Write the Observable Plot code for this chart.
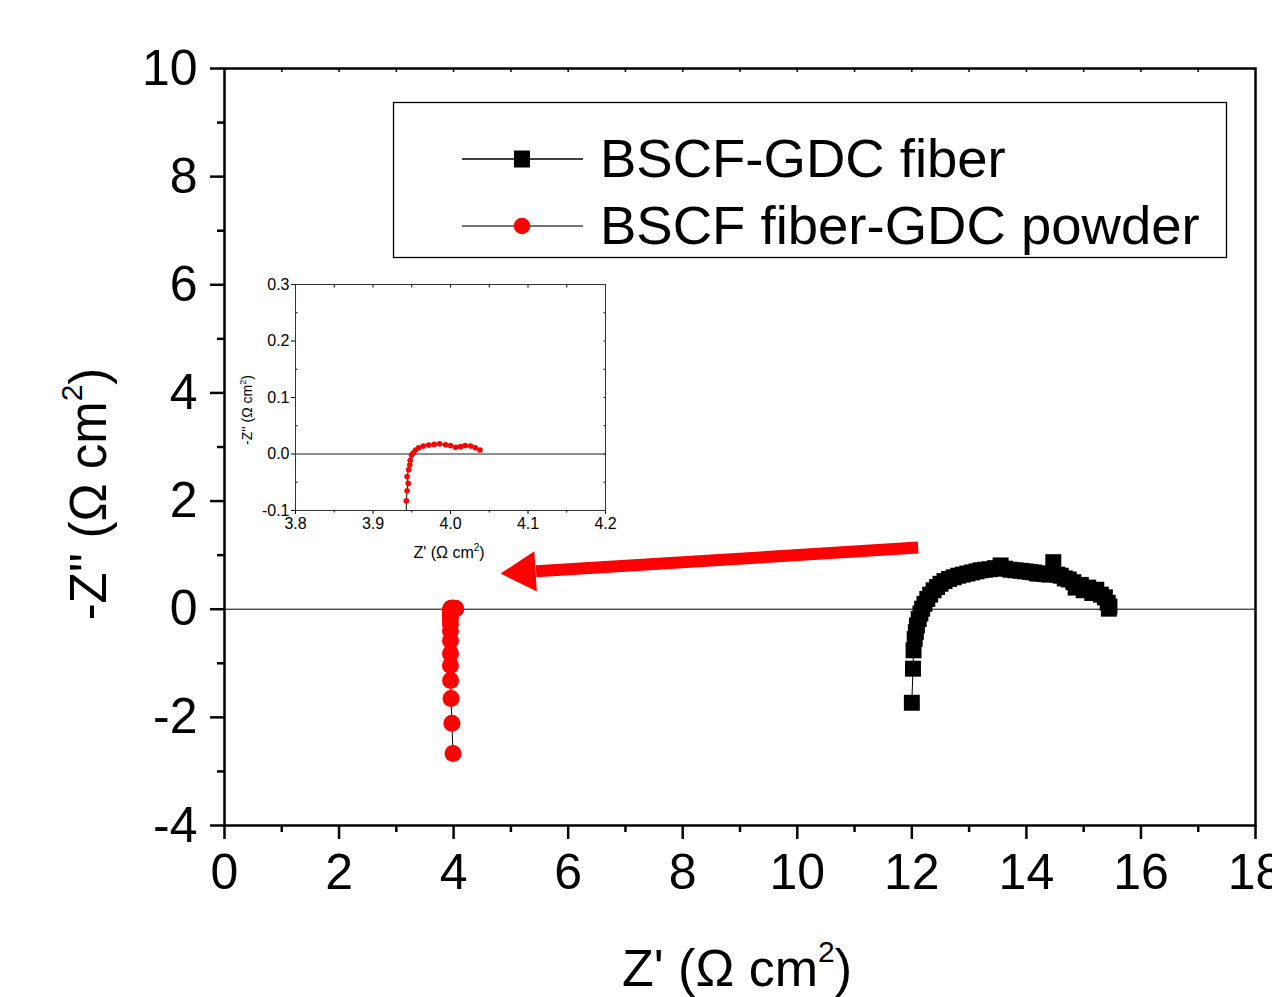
<!DOCTYPE html>
<html><head><meta charset="utf-8">
<script src="https://cdn.jsdelivr.net/npm/d3@7"></script>
<script src="https://cdn.jsdelivr.net/npm/@observablehq/plot@0.6"></script>
<style>
body{margin:0;background:#fff;}
#wrap{position:relative;width:1272px;height:997px;overflow:hidden;background:#fff;}
#main{position:absolute;left:0;top:0;}
#inset{position:absolute;left:220px;top:260px;}
</style></head><body>
<div id="wrap"><div id="main"></div><div id="inset"></div></div>
<script>
// ---- data ----
const seriesNames = ["BSCF-GDC fiber", "BSCF fiber-GDC powder"];
const seriesColors = ["#000000", "#ff0000"];

const fiberZre = [12.00, 12.02, 12.03, 12.05, 12.07, 12.09, 12.12, 12.15, 12.18, 12.22, 12.27, 12.32, 12.38, 12.44, 12.50, 12.57, 12.65, 12.73, 12.81, 12.89, 12.97, 13.05, 13.13, 13.20, 13.28, 13.36, 13.45, 13.55, 13.63, 13.72, 13.81, 13.90, 13.98, 14.06, 14.13, 14.19, 14.26, 14.33, 14.40, 14.47, 14.54, 14.60, 14.67, 14.74, 14.82, 14.86, 14.95, 15.00, 15.08, 15.15, 15.22, 15.30, 15.37, 15.42, 15.45, 15.44];
const fiberZim = [-1.73, -1.10, -0.76, -0.55, -0.42, -0.30, -0.18, -0.08, 0.01, 0.10, 0.19, 0.27, 0.35, 0.41, 0.47, 0.52, 0.56, 0.59, 0.62, 0.64, 0.66, 0.68, 0.70, 0.72, 0.73, 0.74, 0.76, 0.81, 0.75, 0.73, 0.72, 0.71, 0.70, 0.69, 0.68, 0.66, 0.66, 0.65, 0.64, 0.87, 0.64, 0.62, 0.57, 0.55, 0.50, 0.40, 0.45, 0.35, 0.40, 0.30, 0.36, 0.27, 0.22, 0.12, 0.05, 0.01];

const powderZre = [3.99, 3.97, 3.955, 3.947, 3.945, 3.945, 3.945, 3.945, 3.944, 3.944, 3.943, 3.943, 3.944, 3.9454, 3.944, 3.946, 3.9475, 3.948, 3.9497, 3.952, 3.955, 3.959, 3.965, 3.972, 3.979, 3.986, 3.9935, 4.000, 4.0065, 4.013, 4.019, 4.026, 4.032, 4.038];
const powderZim = [-2.67, -2.11, -1.65, -1.32, -1.04, -0.82, -0.58, -0.40, -0.27, -0.18, -0.12, -0.083, -0.065, -0.052, -0.040, -0.028, -0.019, -0.011, -0.002, 0.002, 0.007, 0.011, 0.014, 0.016, 0.017, 0.018, 0.0165, 0.015, 0.012, 0.013, 0.015, 0.014, 0.011, 0.007];

const xMajor = [0, 2, 4, 6, 8, 10, 12, 14, 16, 18];
const xMinor = [1, 3, 5, 7, 9, 11, 13, 15, 17];
const yMajor = [-4, -2, 0, 2, 4, 6, 8, 10];
const yMinor = [-3, -1, 1, 3, 5, 7, 9];
const topTicks = [1, 2, 3, 4, 5, 6, 7, 8, 9, 10, 11, 12, 13, 14, 15, 16, 17];

const insetXMajor = [3.8, 3.9, 4.0, 4.1, 4.2];
const insetXMinor = [3.85, 3.95, 4.05, 4.15];
const insetYMajor = [-0.1, 0.0, 0.1, 0.2, 0.3];
const insetYMinor = [-0.05, 0.05, 0.15, 0.25];

// annotation arrow (data coordinates): tail -> tip
const arrowTail = {x: 12.11, y: 1.14};
const arrowTip = {x: 4.82, y: 0.66};

const fiber = fiberZre.map((x, i) => ({x, y: fiberZim[i]}));
const powder = powderZre.map((x, i) => ({x, y: powderZim[i]}));

const headFrac = 0.085, centFrac = 0.056;
const arrowShaft = [{
  x1: arrowTail.x, y1: arrowTail.y,
  x2: arrowTip.x + (arrowTail.x - arrowTip.x) * headFrac,
  y2: arrowTip.y + (arrowTail.y - arrowTip.y) * headFrac
}];
const arrowHead = [{
  x: arrowTip.x + (arrowTail.x - arrowTip.x) * centFrac,
  y: arrowTip.y + (arrowTail.y - arrowTip.y) * centFrac
}];

const font = "'Liberation Sans', Arial, Helvetica, sans-serif";
const blank = () => "";
const hyph = s => s.replace("\u2212", "-");

const main = Plot.plot({
  width: 1272, height: 997,
  marginLeft: 224, marginRight: 17, marginTop: 68, marginBottom: 172,
  style: {fontFamily: font, background: "transparent", overflow: "visible", color: "#000"},
  x: {domain: [0, 18]},
  y: {domain: [-4, 10]},
  marks: [
    Plot.ruleY([0], {stroke: "#000", strokeWidth: 1}),
    Plot.axisX(xMajor, {anchor: "bottom", tickSize: 14, tickPadding: 14, fontSize: 50, strokeWidth: 2.5, label: null, tickFormat: d => String(d)}),
    Plot.axisX(xMinor, {anchor: "bottom", tickSize: 7, strokeWidth: 2.5, label: null, tickFormat: blank}),
    Plot.axisX(topTicks, {anchor: "top", tickSize: -3, strokeWidth: 1.5, label: null, tickFormat: blank}),
    Plot.axisY(yMajor, {anchor: "left", tickSize: 14, tickPadding: 13, fontSize: 50, strokeWidth: 2.5, label: null, tickFormat: d => String(d)}),
    Plot.axisY(yMinor, {anchor: "left", tickSize: 7, strokeWidth: 2.5, label: null, tickFormat: blank}),
    Plot.frame({stroke: "#000", strokeWidth: 2.5}),
    Plot.line(fiber, {x: "x", y: "y", stroke: seriesColors[0], strokeWidth: 1}),
    Plot.dot(fiber, {x: "x", y: "y", symbol: "square", r: 9, fill: seriesColors[0]}),
    Plot.line(powder, {x: "x", y: "y", stroke: "#000", strokeWidth: 1}),
    Plot.dot(powder, {x: "x", y: "y", symbol: "circle", r: 8.5, fill: seriesColors[1]}),
    Plot.link(arrowShaft, {x1: "x1", y1: "y1", x2: "x2", y2: "y2", stroke: "#ff0000", strokeWidth: 12}),
    Plot.dot(arrowHead, {x: "x", y: "y", symbol: "triangle", r: 15, fill: "#ff0000", rotate: -93.6})
  ]
});
document.getElementById("main").appendChild(main);

// titles & legend
const svg = d3.select(main);
const g = svg.append("g").attr("font-family", font).attr("fill", "#000");
const xt = g.append("text").attr("x", 737).attr("y", 986).attr("text-anchor", "middle").attr("font-size", 52);
xt.append("tspan").text("Z' (Ω cm");
xt.append("tspan").attr("dy", -24).attr("font-size", 30).text("2");
xt.append("tspan").attr("dy", 24).text(")");

const yt = g.append("text").attr("transform", "translate(106,494) rotate(-90)").attr("text-anchor", "middle").attr("font-size", 51);
yt.append("tspan").text("-Z'' (Ω cm");
yt.append("tspan").attr("dy", -24).attr("font-size", 30).text("2");
yt.append("tspan").attr("dy", 24).text(")");

const lg = g.append("g");
lg.append("rect").attr("x", 393.5).attr("y", 102.5).attr("width", 833).attr("height", 155)
  .attr("fill", "none").attr("stroke", "#000").attr("stroke-width", 1.3);
const rowY = [159, 226];
const lineCols = ["#000", "#444"];
seriesNames.forEach((name, i) => {
  const y = rowY[i];
  lg.append("line").attr("x1", 462).attr("x2", 583).attr("y1", y).attr("y2", y).attr("stroke", lineCols[i]).attr("stroke-width", 1.3);
  if (i === 0) lg.append("rect").attr("x", 514).attr("y", y - 8.5).attr("width", 16).attr("height", 17).attr("fill", seriesColors[i]);
  else lg.append("circle").attr("cx", 522).attr("cy", y).attr("r", 8.3).attr("fill", seriesColors[i]);
  lg.append("text").attr("x", 600).attr("y", y + 18).attr("text-anchor", "start").attr("font-size", 54.5).text(name);
});

// inset
const fmt1 = d => hyph(d3.format(".1f")(d));
const inset = Plot.plot({
  width: 400, height: 320,
  marginLeft: 75, marginRight: 15, marginTop: 24, marginBottom: 70,
  style: {fontFamily: font, background: "transparent", overflow: "visible", color: "#000"},
  x: {domain: [3.8, 4.2]},
  y: {domain: [-0.1, 0.3]},
  marks: [
    Plot.ruleY([0], {stroke: "#222", strokeWidth: 1}),
    Plot.axisX(insetXMajor, {anchor: "bottom", tickSize: 4, tickPadding: 3, fontSize: 16, label: null, tickFormat: fmt1}),
    Plot.axisX(insetXMinor, {anchor: "bottom", tickSize: 2.5, label: null, tickFormat: blank}),
    Plot.axisX(insetXMajor.concat(insetXMinor), {anchor: "top", tickSize: -2.5, label: null, tickFormat: blank}),
    Plot.axisY(insetYMajor, {anchor: "left", tickSize: 4, tickPadding: 2, fontSize: 16, label: null, tickFormat: fmt1}),
    Plot.axisY(insetYMinor, {anchor: "left", tickSize: -2.5, label: null, tickFormat: blank}),
    Plot.axisY(insetYMajor.concat(insetYMinor), {anchor: "right", tickSize: -2.5, label: null, tickFormat: blank}),
    Plot.frame({stroke: "#333", strokeWidth: 1}),
    Plot.line(powder, {x: "x", y: "y", stroke: "#000", strokeWidth: 1, clip: true}),
    Plot.dot(powder, {x: "x", y: "y", r: 2.8, fill: seriesColors[1], clip: true})
  ]
});
document.getElementById("inset").appendChild(inset);
const ig = d3.select(inset).append("g").attr("font-family", font).attr("fill", "#000");
const ixt = ig.append("text").attr("x", 229).attr("y", 298).attr("text-anchor", "middle").attr("font-size", 16);
ixt.append("tspan").text("Z' (Ω cm");
ixt.append("tspan").attr("dy", -7).attr("font-size", 10).text("2");
ixt.append("tspan").attr("dy", 7).text(")");
const iyt = ig.append("text").attr("transform", "translate(32,150) rotate(-90)").attr("text-anchor", "middle").attr("font-size", 14);
iyt.append("tspan").text("-Z'' (Ω cm");
iyt.append("tspan").attr("dy", -6).attr("font-size", 9).text("2");
iyt.append("tspan").attr("dy", 6).text(")");
</script>
</body></html>
